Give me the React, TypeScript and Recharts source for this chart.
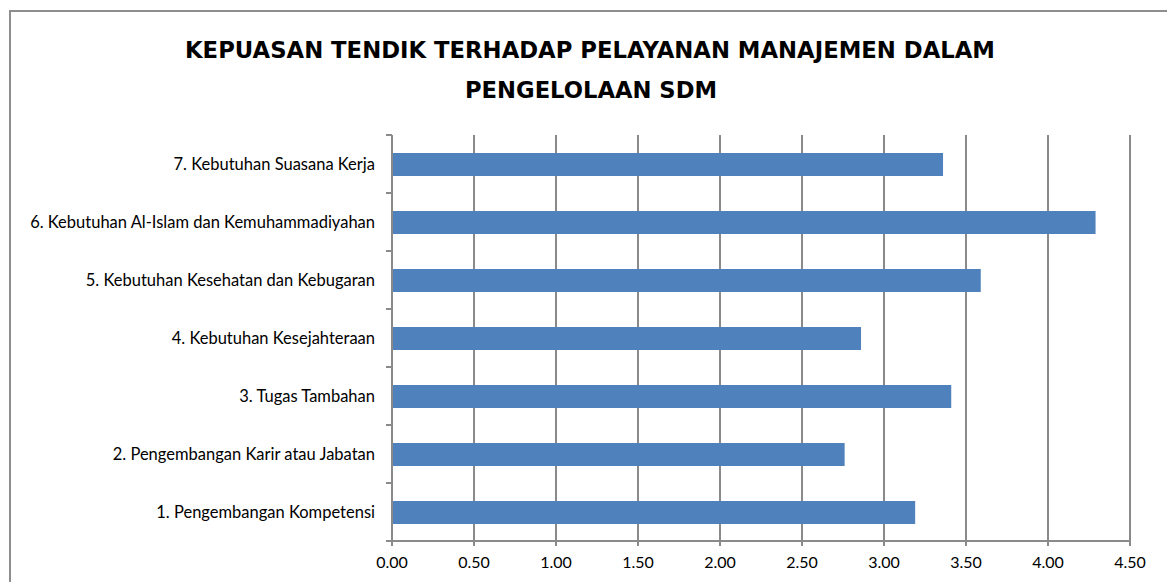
import React from "react";
import { BarChart, Bar, XAxis, YAxis, CartesianGrid } from "recharts";

const categories = [
  "1. Pengembangan Kompetensi",
  "2. Pengembangan Karir atau Jabatan",
  "3. Tugas Tambahan",
  "4. Kebutuhan Kesejahteraan",
  "5. Kebutuhan Kesehatan dan Kebugaran",
  "6. Kebutuhan Al-Islam dan Kemuhammadiyahan",
  "7. Kebutuhan Suasana Kerja",
];
const values = [3.19, 2.76, 3.41, 2.86, 3.59, 4.29, 3.36];
const xTicks = [0, 0.5, 1, 1.5, 2, 2.5, 3, 3.5, 4, 4.5];
const titleLines = [
  "KEPUASAN TENDIK TERHADAP PELAYANAN MANAJEMEN DALAM",
  "PENGELOLAAN SDM",
];

const data = categories.map((name, i) => ({ name, value: values[i] }));

const W = 1167;
const H = 582;
const MARGIN = { top: 135, right: 37, bottom: 0, left: 0 };
const X_AXIS_H = 41;
const Y_AXIS_W = 392;
const Y_TICK_SIZE = 6;
const Y_TICK_MARGIN = 11;
const BAND = (H - MARGIN.top - MARGIN.bottom - X_AXIS_H) / categories.length;
const GRID = "#8a8a8a";
const FONT = "Lato, 'Open Sans', sans-serif";

function YTick(props: any) {
  const { x, y, payload, index } = props;
  const axisX = x + Y_TICK_SIZE + Y_TICK_MARGIN;
  return (
    <g>
      <text
        x={x}
        y={y}
        textAnchor="end"
        dominantBaseline="central"
        fill="#000"
        fontSize={16.5}
        fontFamily={FONT}
      >
        {payload.value}
      </text>
      <line x1={axisX - Y_TICK_SIZE} x2={axisX} y1={y - BAND / 2} y2={y - BAND / 2} stroke={GRID} strokeWidth={2} />
      {index === 0 && (
        <line x1={axisX - Y_TICK_SIZE} x2={axisX} y1={y + BAND / 2} y2={y + BAND / 2} stroke={GRID} strokeWidth={2} />
      )}
    </g>
  );
}

export default function App() {
  return (
    <div
      style={{
        position: "fixed",
        left: 0,
        top: 0,
        width: W,
        height: H,
        overflow: "hidden",
        background: "#fff",
      }}
    >
      <div
        style={{
          position: "absolute",
          left: 9,
          top: 10,
          width: 1300,
          height: 700,
          border: "2px solid #8e8e8e",
          boxSizing: "border-box",
        }}
      />
      <svg width={W} height={130} style={{ position: "absolute", left: 0, top: 0 }}>
        <text
          x={590}
          y={57.5}
          textAnchor="middle"
          fontFamily="'DejaVu Sans', sans-serif"
          fontWeight="bold"
          fontSize={23}
          fill="#000"
          textLength={810}
          lengthAdjust="spacingAndGlyphs"
        >
          {titleLines[0]}
        </text>
        <text
          x={591}
          y={98}
          textAnchor="middle"
          fontFamily="'DejaVu Sans', sans-serif"
          fontWeight="bold"
          fontSize={23}
          fill="#000"
          textLength={252}
          lengthAdjust="spacingAndGlyphs"
        >
          {titleLines[1]}
        </text>
      </svg>
      <div style={{ position: "absolute", left: 0, top: 0 }}>
        <BarChart width={W} height={H} data={data} layout="vertical" margin={MARGIN}>
          <CartesianGrid horizontal={false} stroke={GRID} strokeWidth={2} />
          <XAxis
            type="number"
            domain={[0, 4.5]}
            ticks={xTicks}
            interval={0}
            height={X_AXIS_H}
            tickFormatter={(v: number) => v.toFixed(2)}
            stroke={GRID}
            strokeWidth={2}
            tickSize={5}
            tickMargin={11}
            tick={{ fill: "#000", fontSize: 16, fontFamily: FONT }}
          />
          <YAxis
            type="category"
            dataKey="name"
            reversed
            width={Y_AXIS_W}
            interval={0}
            stroke={GRID}
            strokeWidth={2}
            tickLine={false}
            tickSize={Y_TICK_SIZE}
            tickMargin={Y_TICK_MARGIN}
            tick={<YTick />}
          />
          <Bar dataKey="value" fill="#4F81BD" barSize={23} isAnimationActive={false} />
        </BarChart>
      </div>
    </div>
  );
}
